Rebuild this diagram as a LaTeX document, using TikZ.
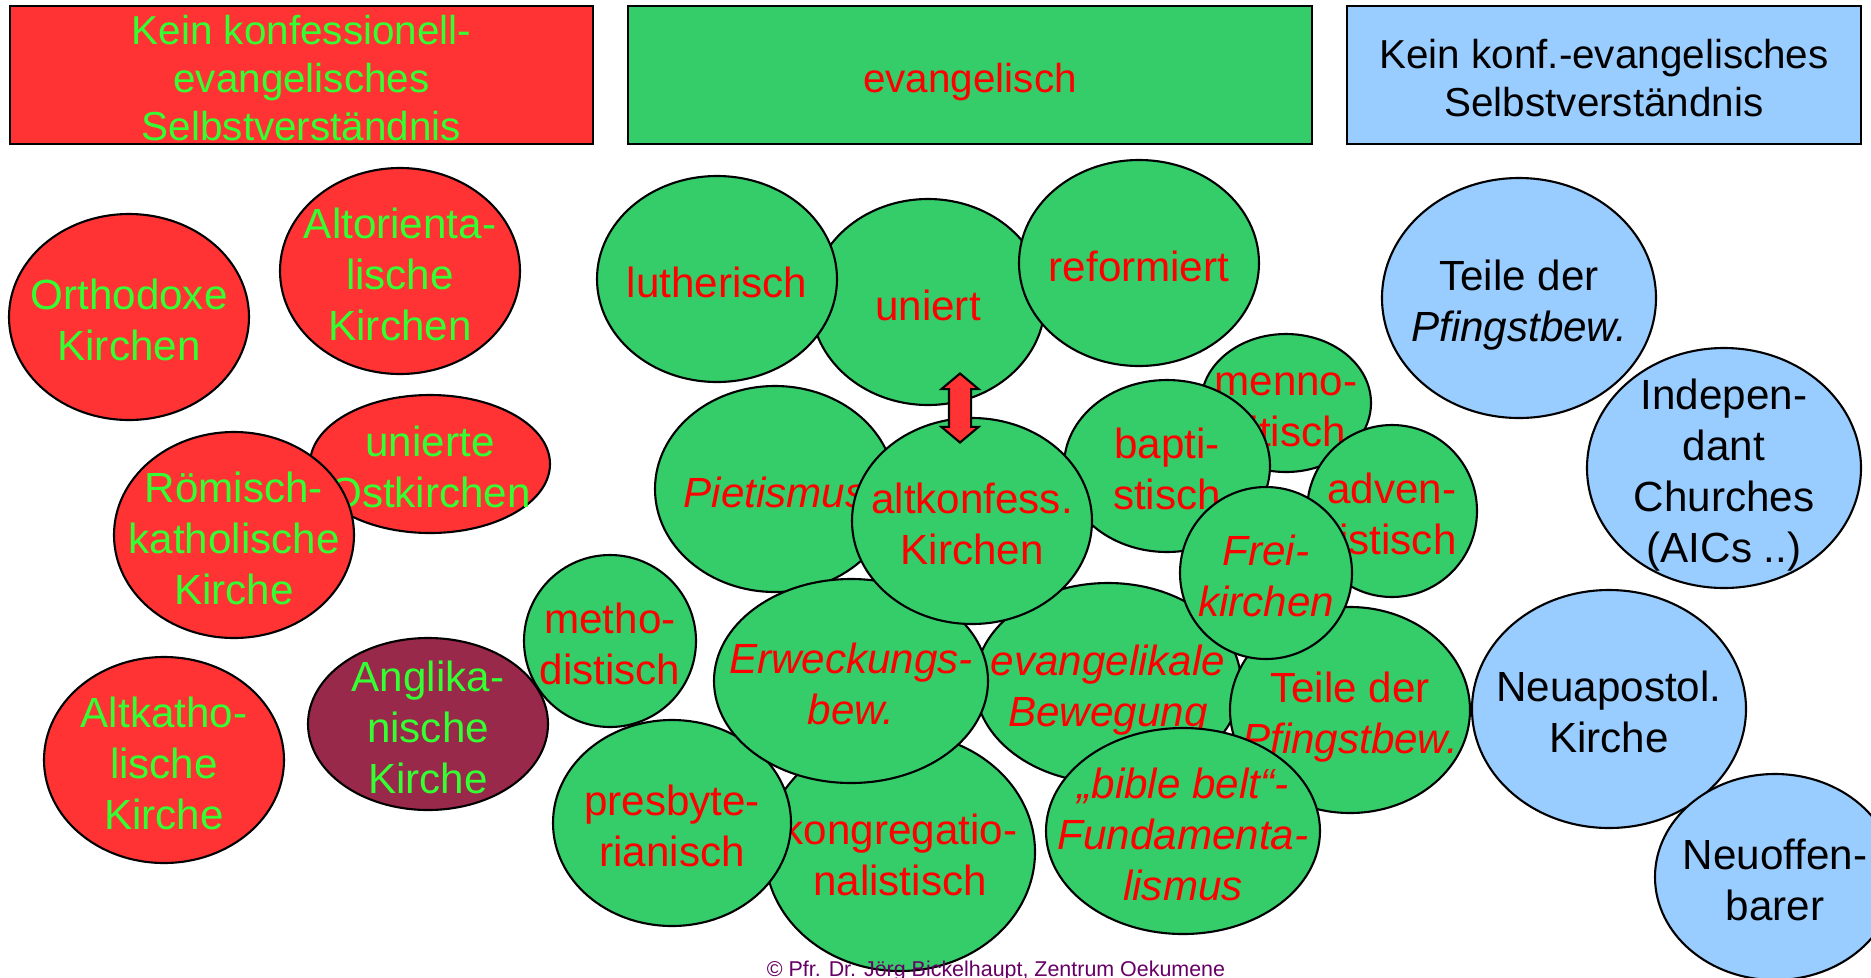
\documentclass[tikz,border=0pt]{standalone}
\usepackage{fontspec}
\setmainfont{Liberation Sans}
\usetikzlibrary{shapes.geometric, shapes.arrows}

\definecolor{boxred}{RGB}{255,51,51}
\definecolor{boxgreen}{RGB}{53,204,106}
\definecolor{boxblue}{RGB}{153,204,255}
\definecolor{maroon}{RGB}{153,41,74}
\definecolor{lightgreen}{RGB}{51,255,51}
\definecolor{textred}{RGB}{255,0,0}
\definecolor{footpurple}{RGB}{102,0,102}

\newcommand{\blobtext}[1]{\rule{0pt}{1.15em}#1\rule[-0.285em]{0pt}{0.285em}}

\begin{document}
\begin{tikzpicture}[x=0.1mm, y=-0.1mm,
        box/.style = {rectangle, draw, line width=0.6pt, fill=#1, inner sep=-2mm,
                      align=center, font=\fontsize{11.5}{13.6}\selectfont},
       blob/.style = {ellipse, draw, line width=0.6pt, fill=#1, inner sep=-6mm,
                      align=center, font=\fontsize{12}{14.5}\selectfont},
         rb/.style = {blob=boxred, text=lightgreen},
         gb/.style = {blob=boxgreen, text=textred},
         bb/.style = {blob=boxblue, text=black},
 sz/.style 2 args = {minimum width=#1mm, minimum height=#2mm},
        dbl/.style = {double arrow, draw, line width=0.6pt, fill=boxred, rotate=90,
                      minimum height=6.9mm, inner sep=1mm,
                      double arrow head extend=0.75mm, double arrow tip angle=100}
                        ]
\clip (0,0) rectangle (1871,977);
\fill[white] (0,0) rectangle (1871,977);

\node (hdrred) [box=boxred, text=lightgreen, minimum width=58.3mm, minimum height=13.8mm]
      at (301.5,75) {\blobtext{Kein konfessionell-\\evangelisches\\Selbstverständnis}};
\node (hdrgreen) [box=boxgreen, text=textred, minimum width=68.4mm, minimum height=13.8mm]
      at (970,75) {\blobtext{evangelisch}};
\node (hdrblue) [box=boxblue, text=black, minimum width=51.4mm, minimum height=13.8mm]
      at (1604,75) {\blobtext{Kein konf.-evangelisches\\Selbstverständnis}};

\node (orth) [rb, sz={24}{20.6}] at (129,317) {\blobtext{Orthodoxe\\Kirchen}};
\node (altor) [rb, sz={24}{20.6}] at (400,271) {\blobtext{Altorienta-\\lische\\Kirchen}};
\node (ostk) [rb, sz={24}{13.8}] at (430,464) {\blobtext{unierte\\Ostkirchen}};
\node (roem) [rb, sz={24}{20.6}] at (234,535) {\blobtext{Römisch-\\katholische\\Kirche}};
\node (altkath) [rb, sz={24}{20.6}] at (164,760) {\blobtext{Altkatho-\\lische\\Kirche}};
\node (angl) [blob=maroon, text=lightgreen, sz={24}{17.2}] at (428,724)
      {\blobtext{Anglika-\\nische\\Kirche}};

\node (uniert) [gb, sz={23.4}{20.6}] at (928,302) {\blobtext{uniert}};
\node (luth) [gb, sz={24}{20.6}] at (717,279) {\blobtext{lutherisch}};
\node (ref) [gb, sz={24}{20.6}] at (1139,263) {\blobtext{reformiert}};
\node (menno) [gb, sz={17}{13.8}] at (1286,403) {\blobtext{menno-\\nitisch}};
\node (bapt) [gb, sz={20.6}{17.2}] at (1167,466) {\blobtext{bapti-\\stisch}};
\node (advent) [gb, sz={17}{17.2}] at (1392,511) {\blobtext{adven-\\tistisch}};
\node (piet) [gb, sz={24}{20.6}] at (775,489) {\blobtext{\textit{Pietismus}}};
\node (metho) [gb, sz={17.2}{17.2}] at (610,641) {\blobtext{metho-\\distisch}};
\node (kongr) [gb, sz={27}{23.8}] at (900,852) {\blobtext{kongregatio-\\nalistisch}};
\node (presb) [gb, sz={23.8}{20.6}] at (672,823) {\blobtext{presbyte-\\rianisch}};
\node (evgl) [gb, sz={26.6}{20}, font=\fontsize{12}{14.5}\selectfont\itshape]
      at (1108,683) {\blobtext{evangelikale\\Bewegung}};
\node (erw) [gb, sz={27.4}{20.4}, font=\fontsize{12}{14.5}\selectfont\itshape]
      at (851,681) {\blobtext{Erweckungs-\\bew.}};
\node (altk) [gb, sz={24}{20.6}] at (972,521) {\blobtext{altkonfess.\\Kirchen}};
\node (link) [dbl] at (960,408) {};
\node (pfgr) [gb, sz={24}{20.6}] at (1350,710) {\blobtext{Teile der\\\textit{Pfingstbew.}}};
\node (bible) [gb, sz={27.4}{20.6}, font=\fontsize{12}{14.5}\selectfont\itshape]
      at (1183,831) {\blobtext{„bible belt“-\\Fundamenta-\\lismus}};
\node (frei) [gb, sz={17.2}{17.2}, font=\fontsize{12}{14.5}\selectfont\itshape]
      at (1266,573) {\blobtext{Frei-\\kirchen}};

\node (pfbl) [bb, sz={27.4}{24}] at (1519,298) {\blobtext{Teile der\\\textit{Pfingstbew.}}};
\node (aic) [bb, sz={27.4}{24}] at (1724,468) {\blobtext{Indepen-\\dant\\Churches\\(AICs ..)}};
\node (neuap) [bb, sz={27.4}{23.8}] at (1609,709) {\blobtext{Neuapostol.\\Kirche}};
\node (neuoff) [bb, sz={24}{20.6}] at (1775,877) {\blobtext{Neuoffen-\\barer}};

\node (credit) [text=footpurple, font=\fontsize{6.1}{7}\selectfont]
      at (996,971) {© Pfr. Dr. Jörg Bickelhaupt, Zentrum Oekumene};
\end{tikzpicture}
\end{document}
